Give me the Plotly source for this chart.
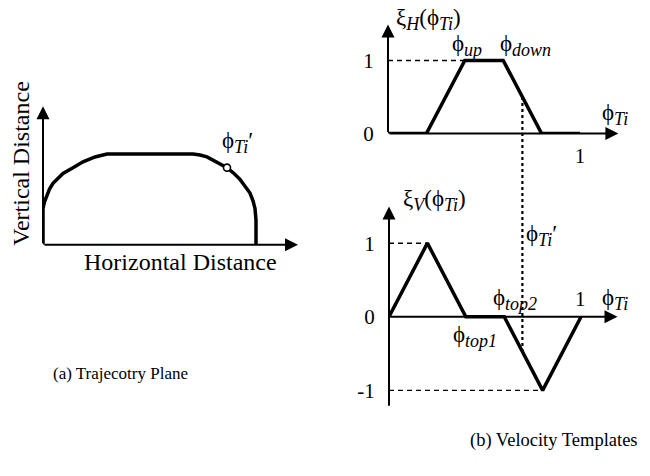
import numpy as np
import plotly.graph_objects as go

W, H = 650, 476

# Trajectory in the horizontal / vertical distance plane (arbitrary length units)
traj_h = [0, 0, 1.5, 3.7, 6.5, 10, 14.5, 20, 30, 40, 52, 64, 150, 157, 164, 174, 184,
          191, 197, 202, 207, 210, 212, 213, 213]
traj_v = [0, 37, 44, 50, 57, 63, 68, 73, 79, 85, 90, 93, 93, 92, 90, 85, 79,
          73, 67, 60, 53, 45, 37, 25, 0]
# point on the trajectory that corresponds to phi_Ti'
probe_h, probe_v = 184, 79

# Velocity templates over normalised phase phi_Ti
phi_H = [0, 0.2, 0.4, 0.6, 0.8, 1.0]
xi_H = [0, 0, 1, 1, 0, 0]
phi_V = [0, 0.2, 0.4, 0.6, 0.8, 1.0]
xi_V = [0, 1, 0, 0, -1, 0]
phi_prime = 0.70

FONT = "Liberation Serif, Times New Roman, serif"
INK = "black"


def dom_x(p0, p1):
    return [p0 / W, p1 / W]


def dom_y(top, bottom):
    return [1 - bottom / H, 1 - top / H]


def P(xp, yp):
    return xp / W, 1 - yp / H


# axis domains / ranges for the three panels
ax_left = dict(xd=dom_x(43, 310), xr=[0, 267], yd=dom_y(100, 251), yr=[0, 151])
ax_top = dict(xd=dom_x(388, 640), xr=[0, 1.3125], yd=dom_y(5, 137), yr=[0, 1.76])
ax_bot = dict(xd=dom_x(389, 640), xr=[0, 1.307], yd=dom_y(205, 430), yr=[-1.391, 1.589])


def paper_y(v, ax):
    d0, d1 = ax["yd"]
    r0, r1 = ax["yr"]
    return d0 + (v - r0) / (r1 - r0) * (d1 - d0)


fig = go.Figure()

thick = dict(color=INK, width=3.5)
dashed = dict(color=INK, width=1.4, dash="5px,4px")

# (a) trajectory
fig.add_trace(go.Scatter(x=traj_h, y=traj_v, mode="lines",
                         line=dict(color=INK, width=3.5),
                         xaxis="x", yaxis="y", cliponaxis=False, hoverinfo="skip"))
fig.add_trace(go.Scatter(x=[probe_h], y=[probe_v], mode="markers",
                         marker=dict(size=7, color="white", line=dict(color=INK, width=1.6)),
                         xaxis="x", yaxis="y", cliponaxis=False, hoverinfo="skip"))

# (b) horizontal template
i_up = xi_H.index(1)
fig.add_trace(go.Scatter(x=[0, phi_H[i_up]], y=[1, 1], mode="lines", line=dashed,
                         xaxis="x2", yaxis="y2", cliponaxis=False, hoverinfo="skip"))
fig.add_trace(go.Scatter(x=phi_H, y=xi_H, mode="lines", line=thick,
                         xaxis="x2", yaxis="y2", cliponaxis=False, hoverinfo="skip"))

# (b) vertical template
i_max = int(np.argmax(xi_V))
i_min = int(np.argmin(xi_V))
fig.add_trace(go.Scatter(x=[0, phi_V[i_max]], y=[1, 1], mode="lines", line=dashed,
                         xaxis="x3", yaxis="y3", cliponaxis=False, hoverinfo="skip"))
fig.add_trace(go.Scatter(x=[0, phi_V[i_min]], y=[-1, -1], mode="lines", line=dashed,
                         xaxis="x3", yaxis="y3", cliponaxis=False, hoverinfo="skip"))
fig.add_trace(go.Scatter(x=phi_V, y=xi_V, mode="lines", line=thick,
                         xaxis="x3", yaxis="y3", cliponaxis=False, hoverinfo="skip"))

# dotted marker of phi_Ti' running through both templates
yH = float(np.interp(phi_prime, phi_H, xi_H))
yV = float(np.interp(phi_prime, phi_V, xi_V))
fig.add_shape(type="line", xref="x2", yref="paper",
              x0=phi_prime, x1=phi_prime,
              y0=paper_y(yH, ax_top), y1=paper_y(yV, ax_bot),
              line=dict(color=INK, width=2.2, dash="3px,3px"))


def arrow(xref, yref, x0, y0, x1, y1):
    return dict(x=x1, y=y1, ax=x0, ay=y0, xref=xref, yref=yref, axref=xref, ayref=yref,
                showarrow=True, arrowhead=2, arrowsize=1.3, arrowwidth=2,
                arrowcolor=INK, text="", standoff=0)


anns = [
    arrow("x", "y", 0, 0, 0, 142),
    arrow("x", "y", 0, 0, 255, 0),
    arrow("x2", "y2", 0, 0, 0, 1.49),
    arrow("x2", "y2", 0, 0, 1.2, 0),
    arrow("x3", "y3", 0, -1.23, 0, 1.5),
    arrow("x3", "y3", 0, 0, 1.19, 0),
]


def label(text, xp, yp, size=20, angle=0, xanchor="center"):
    x, y = P(xp, yp)
    return dict(x=x, y=y, xref="paper", yref="paper", text=text, showarrow=False,
                xanchor=xanchor, yanchor="middle", textangle=angle,
                font=dict(family=FONT, size=size, color=INK))


def sub(s):
    return "<sub><span style='font-size:18px'><i>" + s + "</i></span></sub>"


TI = "ϕ" + sub("Ti")
G = 23
anns += [
    label("Vertical Distance", 21, 168, size=24, angle=-90),
    label("Horizontal Distance", 180, 269, size=24),
    label(TI + "′", 237, 146, size=G),
    label("(a) Trajecotry Plane", 121, 383, size=17),
    label("(b) Velocity Templates", 554, 452, size=18.5),
    label("ξ" + sub("H") + "(" + TI + ")", 428, 20, size=G),
    label("ϕ" + sub("up"), 467, 47, size=G),
    label("ϕ" + sub("down"), 525, 47, size=G),
    label(TI, 615, 117, size=G),
    label("ξ" + sub("V") + "(" + TI + ")", 435, 206, size=G),
    label(TI + "′", 541, 242, size=G),
    label("ϕ" + sub("top2"), 515, 307, size=G),
    label("ϕ" + sub("top1"), 475, 345, size=G),
    label("1", 580, 307, size=21),
    label(TI, 615, 307, size=G),
]

hidden = dict(showgrid=False, zeroline=False, showline=False, showticklabels=False, ticks="")
tick_font = dict(family=FONT, size=21, color=INK)

fig.update_layout(
    width=W, height=H,
    margin=dict(l=0, r=0, t=0, b=0),
    paper_bgcolor="white", plot_bgcolor="rgba(0,0,0,0)",
    showlegend=False,
    xaxis=dict(domain=ax_left["xd"], range=ax_left["xr"], anchor="y", **hidden),
    yaxis=dict(domain=ax_left["yd"], range=ax_left["yr"], anchor="x", **hidden),
    xaxis2=dict(domain=ax_top["xd"], range=ax_top["xr"], anchor="y2",
                showgrid=False, zeroline=False, showline=False,
                tickvals=[1], ticktext=["1"], ticks="outside", ticklen=3,
                tickcolor="rgba(0,0,0,0)", tickfont=tick_font),
    yaxis2=dict(domain=ax_top["yd"], range=ax_top["yr"], anchor="x2",
                showgrid=False, zeroline=False, showline=False,
                tickvals=[0, 1], ticktext=["0", "1"], ticks="outside", ticklen=9,
                tickcolor="rgba(0,0,0,0)", tickfont=tick_font),
    xaxis3=dict(domain=ax_bot["xd"], range=ax_bot["xr"], anchor="y3", **hidden),
    yaxis3=dict(domain=ax_bot["yd"], range=ax_bot["yr"], anchor="x3",
                showgrid=False, zeroline=False, showline=False,
                tickvals=[-1, 0, 1], ticktext=["-1", "0", "1"], ticks="outside", ticklen=9,
                tickcolor="rgba(0,0,0,0)", tickfont=tick_font),
    annotations=anns,
)

fig.write_html("out.html")
